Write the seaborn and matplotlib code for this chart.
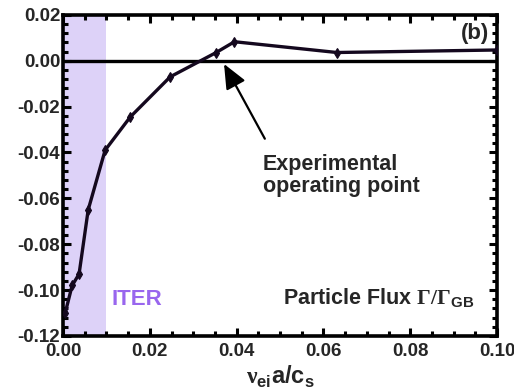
import matplotlib
matplotlib.use("Agg")
import matplotlib.pyplot as plt
from matplotlib.ticker import MultipleLocator
import seaborn as sns
import pandas as pd

# Data
nu = [0.0005, 0.0021, 0.0037, 0.0058, 0.0097, 0.0155, 0.0247, 0.0352, 0.0395, 0.0631, 0.100]
flux = [-0.110, -0.098, -0.093, -0.065, -0.039, -0.0245, -0.007, 0.0035, 0.0083, 0.0036, 0.0047]
iter_span = [0.0, 0.010]
xticks = [0.00, 0.02, 0.04, 0.06, 0.08, 0.10]
yticks = [-0.12, -0.10, -0.08, -0.06, -0.04, -0.02, 0.00, 0.02]

sns.set_style("ticks")
plt.rcParams['font.family'] = ['Liberation Sans', 'DejaVu Sans']
plt.rcParams['font.weight'] = 'bold'
plt.rcParams['mathtext.fontset'] = 'custom'
plt.rcParams['mathtext.rm'] = 'Liberation Serif'
plt.rcParams['mathtext.bf'] = 'Liberation Sans:bold'
plt.rcParams['mathtext.sf'] = 'Liberation Sans:bold'

df = pd.DataFrame({'nu': nu, 'flux': flux})
line_col = '#14081e'

fig = plt.figure(figsize=(5.14, 3.92), dpi=100)
ax = fig.add_axes([0.1226, 0.143, 0.8444, 0.819])

ax.axvspan(iter_span[0], iter_span[1], color='#ddd2f8', lw=0, zorder=0)
ax.axhline(0.0, color='black', lw=2.4, zorder=2)

sns.lineplot(data=df, x='nu', y='flux', ax=ax, color=line_col, lw=2.4,
             marker='d', markersize=5, markeredgewidth=0.8, markeredgecolor=line_col,
             markerfacecolor=line_col, sort=False, zorder=3)

ax.set_xlim(0, 0.10)
ax.set_ylim(-0.12, 0.02)
ax.set_xticks(xticks)
ax.set_yticks(yticks)
ax.set_xticklabels([f"{v:.2f}" for v in xticks])
ax.set_yticklabels([f"{v:.2f}" for v in yticks])
ax.xaxis.set_minor_locator(MultipleLocator(0.005))
ax.yaxis.set_minor_locator(MultipleLocator(0.004))
ax.tick_params(which='both', direction='in', top=True, right=True, width=2.2, color='black')
ax.tick_params(which='major', length=6, labelsize=13.5)
ax.tick_params(axis='x', which='major', pad=5)
ax.tick_params(axis='y', which='major', pad=2)
ax.tick_params(which='minor', length=3.5)
for lab in ax.get_xticklabels() + ax.get_yticklabels():
    lab.set_fontweight('bold')
for s in ax.spines.values():
    s.set_linewidth(2.6)
    s.set_color('black')

ax.set_ylabel('')
ax.set_xlabel(r'$\mathrm{\nu}_{\mathbf{ei}}$a/c$_{\mathbf{s}}$', fontsize=17, fontweight='bold', labelpad=3)

ax.text(0.0981, 0.0117, '(b)', fontsize=16, fontweight='bold', ha='right', va='center')
ax.text(0.0112, -0.1039, 'ITER', fontsize=16, fontweight='bold', color='#9966ee', ha='left', va='center')
ax.text(0.0947, -0.1035, r'Particle Flux $\mathrm{\Gamma/\Gamma}_{\mathbf{GB}}$', fontsize=15.5,
        fontweight='bold', ha='right', va='center')
ax.text(0.0460, -0.0405, 'Experimental\noperating point', fontsize=15.5, fontweight='bold',
        ha='left', va='top', linespacing=1.1)

ax.annotate('', xy=(0.0371, -0.0014), xytext=(0.0465, -0.0340),
            arrowprops=dict(arrowstyle='-|>,head_length=1.5,head_width=0.65', color='black', lw=1.6,
                            shrinkA=0, shrinkB=0))

fig.savefig('out.png', dpi=100)
